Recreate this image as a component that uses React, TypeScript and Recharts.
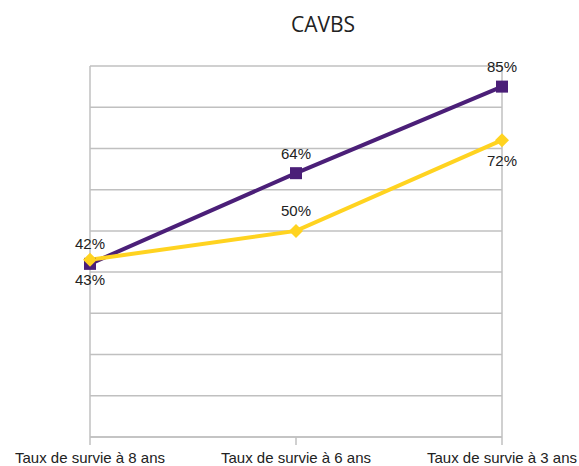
import { CartesianGrid, LabelList, Line, LineChart, ReferenceLine, XAxis, YAxis } from "recharts";

const categories = ["Taux de survie à 8 ans", "Taux de survie à 6 ans", "Taux de survie à 3 ans"];
const serieViolette = [42, 64, 85];
const serieJaune = [43, 50, 72];
const positionsJaune = ["bottom", "top", "bottom"];
const yTicks = [0, 10, 20, 30, 40, 50, 60, 70, 80, 90];

const dados = categories.map((cat, i) => ({
  cat,
  violet: serieViolette[i],
  jaune: serieJaune[i],
}));

const VIOLET = "#4b1f78";
const JAUNE = "#ffd320";

const Carre = (props: any) => {
  const { cx, cy } = props;
  if (cx == null || cy == null) return null;
  return <rect x={cx - 6} y={cy - 6} width={12} height={12} fill={VIOLET} />;
};

const Losange = (props: any) => {
  const { cx, cy } = props;
  if (cx == null || cy == null) return null;
  return <path d={`M${cx},${cy - 7}L${cx + 7},${cy}L${cx},${cy + 7}L${cx - 7},${cy}Z`} fill={JAUNE} />;
};

const etiquette = (pos: (i: number) => string) => (props: any) => {
  const { x, y, value, index } = props;
  const dessous = pos(index) === "bottom";
  return (
    <text
      x={x}
      y={dessous ? y + 20 : y - 20}
      textAnchor="middle"
      dominantBaseline="central"
      fontSize={15}
      fill="#222"
      fontFamily="Liberation Sans"
    >
      {value}%
    </text>
  );
};

export default function App() {
  return (
    <div style={{ position: "absolute", left: 0, top: 0, width: 579, height: 466, background: "#fff" }}>
      <svg width={579} height={40} style={{ position: "absolute", left: 0, top: 0 }}>
        <text x={323} y={32} textAnchor="middle" fontSize={21} fill="#222" fontFamily="Open Sans">
          CAVBS
        </text>
      </svg>
      <LineChart width={579} height={466} data={dados} margin={{ top: 66, right: 77, bottom: 0, left: 90 }}>
        <CartesianGrid vertical={false} stroke="#c0c0c0" strokeWidth={1.5} />
        <YAxis hide domain={[0, 90]} ticks={yTicks} />
        <XAxis
          dataKey="cat"
          height={29}
          tickSize={8}
          tickMargin={7}
          axisLine={{ stroke: "#c0c0c0", strokeWidth: 1.5 }}
          tickLine={{ stroke: "#c0c0c0", strokeWidth: 1.5 }}
          tick={{ fontSize: 15, fill: "#222", fontFamily: "Liberation Sans" }}
          interval={0}
        />
        <ReferenceLine x={categories[0]} stroke="#c0c0c0" strokeWidth={1.5} />
        <ReferenceLine x={categories[categories.length - 1]} stroke="#c0c0c0" strokeWidth={1.5} />
        <Line
          dataKey="violet"
          stroke={VIOLET}
          strokeWidth={4}
          dot={<Carre />}
          activeDot={false}
          isAnimationActive={false}
        >
          <LabelList dataKey="violet" content={etiquette(() => "top")} />
        </Line>
        <Line
          dataKey="jaune"
          stroke={JAUNE}
          strokeWidth={4}
          dot={<Losange />}
          activeDot={false}
          isAnimationActive={false}
        >
          <LabelList dataKey="jaune" content={etiquette((i) => positionsJaune[i])} />
        </Line>
      </LineChart>
    </div>
  );
}
